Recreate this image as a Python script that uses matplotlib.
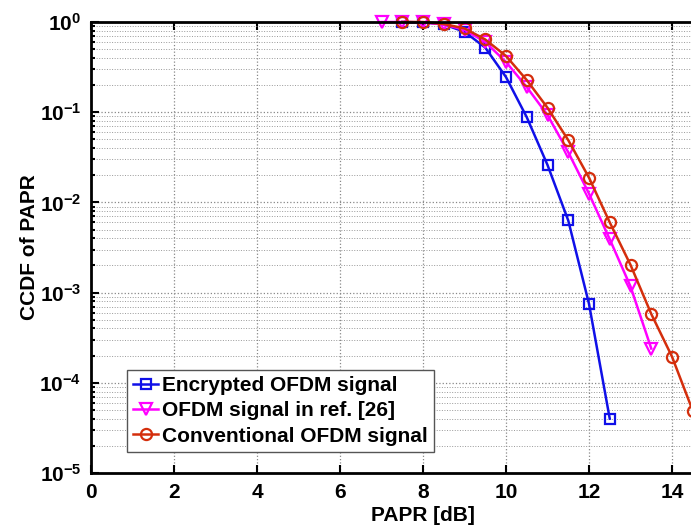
import numpy as np
import matplotlib
matplotlib.use("Agg")
import matplotlib.pyplot as plt
from matplotlib.ticker import FixedLocator, FuncFormatter, LogLocator, NullFormatter

plt.rcParams['font.family'] = 'Liberation Sans'
plt.rcParams['font.weight'] = 'bold'
plt.rcParams['mathtext.fontset'] = 'custom'
plt.rcParams['mathtext.bf'] = 'Liberation Sans:bold'
plt.rcParams['mathtext.rm'] = 'Liberation Sans:bold'

# data
x_enc = [7.5, 8.0, 8.5, 9.0, 9.5, 10.0, 10.5, 11.0, 11.5, 12.0, 12.5]
y_enc = [1.0, 0.99, 0.94, 0.78, 0.52, 0.245, 0.088, 0.026, 0.0063, 0.00075, 4.0e-5]

x_ref = [7.0, 7.5, 8.0, 8.5, 9.0, 9.5, 10.0, 10.5, 11.0, 11.5, 12.0, 12.5, 13.0, 13.5]
y_ref = [1.0, 1.0, 0.99, 0.94, 0.82, 0.6, 0.36, 0.19, 0.093, 0.036, 0.0125, 0.0039, 0.00117, 2.4e-4]

x_conv = [7.5, 8.0, 8.5, 9.0, 9.5, 10.0, 10.5, 11.0, 11.5, 12.0, 12.5, 13.0, 13.5, 14.0, 14.5, 15.0]
y_conv = [1.0, 1.0, 0.95, 0.85, 0.64, 0.42, 0.227, 0.112, 0.049, 0.0188, 0.006, 0.00203, 5.8e-4, 1.95e-4, 4.9e-5, 1.1e-5]

labels = ['Encrypted OFDM signal', 'OFDM signal in ref. [26]', 'Conventional OFDM signal']

fig = plt.figure(figsize=(6.91, 5.29), dpi=100)
ax = fig.add_axes([91/691, 1-473/529, 664/691, 451/529])

ax.semilogy(x_enc, y_enc, '-s', color='#1010e8', lw=1.8, ms=6.5, mfc='none', mew=1.6,
            label=labels[0], clip_on=False)
ax.semilogy(x_ref, y_ref, '-v', color='#ff00ff', lw=1.8, ms=8, mfc='none', mew=1.6,
            label=labels[1], clip_on=False)
ax.semilogy(x_conv, y_conv, '-o', color='#d42e0c', lw=1.8, ms=8, mfc='none', mew=1.6,
            label=labels[2], clip_on=False)

ax.set_xlim(0, 16)
ax.set_ylim(1e-5, 1)
ax.set_xticks(np.arange(0, 15, 2))
ax.yaxis.set_major_locator(FixedLocator([1e-5, 1e-4, 1e-3, 1e-2, 1e-1, 1]))
ax.yaxis.set_minor_locator(LogLocator(base=10, subs=np.arange(2, 10), numticks=20))
ax.yaxis.set_minor_formatter(NullFormatter())
ax.yaxis.set_major_formatter(FuncFormatter(lambda v, p: r'$\mathbf{10^{%d}}$' % int(round(np.log10(v)))))

ax.grid(True, which='major', ls=':', color='#888888', lw=0.9)
ax.grid(True, which='minor', axis='y', ls=':', color='#999999', lw=0.7)
ax.tick_params(which='both', direction='in', top=True, right=True, labelsize=15, width=1.5)
ax.tick_params(which='major', length=6, pad=7)
ax.tick_params(which='minor', length=3)
for s in ax.spines.values():
    s.set_linewidth(2)

ax.set_xlabel('PAPR [dB]', fontsize=15, fontweight='bold', labelpad=3)
ax.set_ylabel('CCDF of PAPR', fontsize=15, fontweight='bold', labelpad=0)

leg = ax.legend(loc='lower left', bbox_to_anchor=(127/691, 77/529), bbox_transform=fig.transFigure,
                borderaxespad=0, fontsize=15, fancybox=False, framealpha=1, edgecolor='#555555',
                handlelength=1.2, handletextpad=0.2, labelspacing=0.3, borderpad=0.3)
leg.get_frame().set_linewidth(1.0)
for t in leg.get_texts():
    t.set_fontweight('bold')

fig.savefig('out.png', dpi=100)
